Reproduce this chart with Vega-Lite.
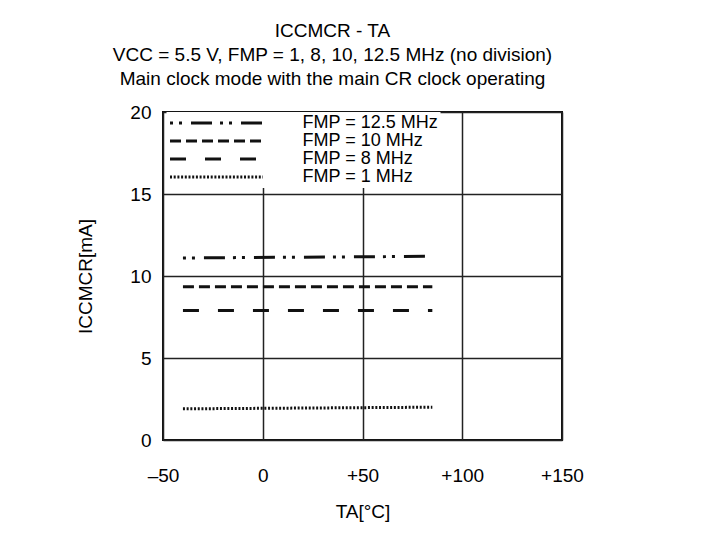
{
  "$schema": "https://vega.github.io/schema/vega-lite/v6.json",
  "width": 399,
  "height": 328,
  "autosize": {"type": "none"},
  "padding": {"left": 163, "top": 112, "right": 150, "bottom": 93},
  "background": "white",
  "title": {
    "text": ["ICCMCR - TA", "VCC = 5.5 V, FMP = 1, 8, 10, 12.5 MHz (no division)", "Main clock mode with the main CR clock operating"],
    "font": "Liberation Sans",
    "fontSize": 19,
    "fontWeight": "normal",
    "lineHeight": 24,
    "color": "black",
    "anchor": "middle",
    "dx": -30,
    "offset": 14
  },
  "data": {
    "values": [
      {"T": -40, "I": 11.1, "series": "FMP = 12.5 MHz"},
      {"T": 85, "I": 11.2, "series": "FMP = 12.5 MHz"},
      {"T": -40, "I": 9.35, "series": "FMP = 10 MHz"},
      {"T": 85, "I": 9.35, "series": "FMP = 10 MHz"},
      {"T": -40, "I": 7.9, "series": "FMP = 8 MHz"},
      {"T": 85, "I": 7.9, "series": "FMP = 8 MHz"},
      {"T": -40, "I": 1.9, "series": "FMP = 1 MHz"},
      {"T": 85, "I": 2.0, "series": "FMP = 1 MHz"}
    ]
  },
  "mark": {"type": "line", "strokeWidth": 3, "color": "#111111", "strokeCap": "butt"},
  "encoding": {
    "x": {
      "field": "T",
      "type": "quantitative",
      "scale": {"domain": [-50, 150], "nice": false, "zero": false},
      "axis": {
        "values": [-50, 0, 50, 100, 150],
        "labelExpr": "datum.value > 0 ? '+' + datum.value : (datum.value < 0 ? '–' + abs(datum.value) : '0')",
        "labelFlush": false,
        "labelOverlap": false,
        "title": "TA[°C]",
        "labelPadding": 26,
        "titlePadding": 17
      }
    },
    "y": {
      "field": "I",
      "type": "quantitative",
      "scale": {"domain": [0, 20], "nice": false},
      "axis": {
        "values": [0, 5, 10, 15, 20],
        "labelFlush": false,
        "labelOverlap": false,
        "title": "ICCMCR[mA]",
        "labelPadding": 12,
        "titlePadding": 34
      }
    },
    "strokeDash": {
      "field": "series",
      "type": "nominal",
      "scale": {
        "domain": ["FMP = 12.5 MHz", "FMP = 10 MHz", "FMP = 8 MHz", "FMP = 1 MHz"],
        "range": [[3, 6, 3, 9, 21, 8], [11, 5], [16, 19], [2, 1.7]]
      },
      "legend": {
        "orient": "none",
        "legendX": 3.5,
        "legendY": 0,
        "title": null,
        "symbolType": "stroke",
        "symbolSize": 8649,
        "symbolStrokeWidth": 3,
        "symbolStrokeColor": "#111111",
        "clipHeight": 18,
        "labelOffset": 38,
        "labelFont": "Liberation Sans",
        "labelFontSize": 18,
        "labelColor": "black",
        "labelLimit": 300,
        "fillColor": "white",
        "padding": 2,
        "rowPadding": 0
      }
    }
  },
  "config": {
    "view": {"stroke": "#111111", "strokeWidth": 2},
    "axis": {
      "grid": true,
      "gridColor": "#222222",
      "gridWidth": 1.5,
      "gridOpacity": 1,
      "domain": false,
      "ticks": false,
      "labelFont": "Liberation Sans",
      "labelFontSize": 19,
      "labelColor": "black",
      "titleFont": "Liberation Sans",
      "titleFontSize": 19,
      "titleFontWeight": "normal",
      "titleColor": "black"
    }
  }
}
